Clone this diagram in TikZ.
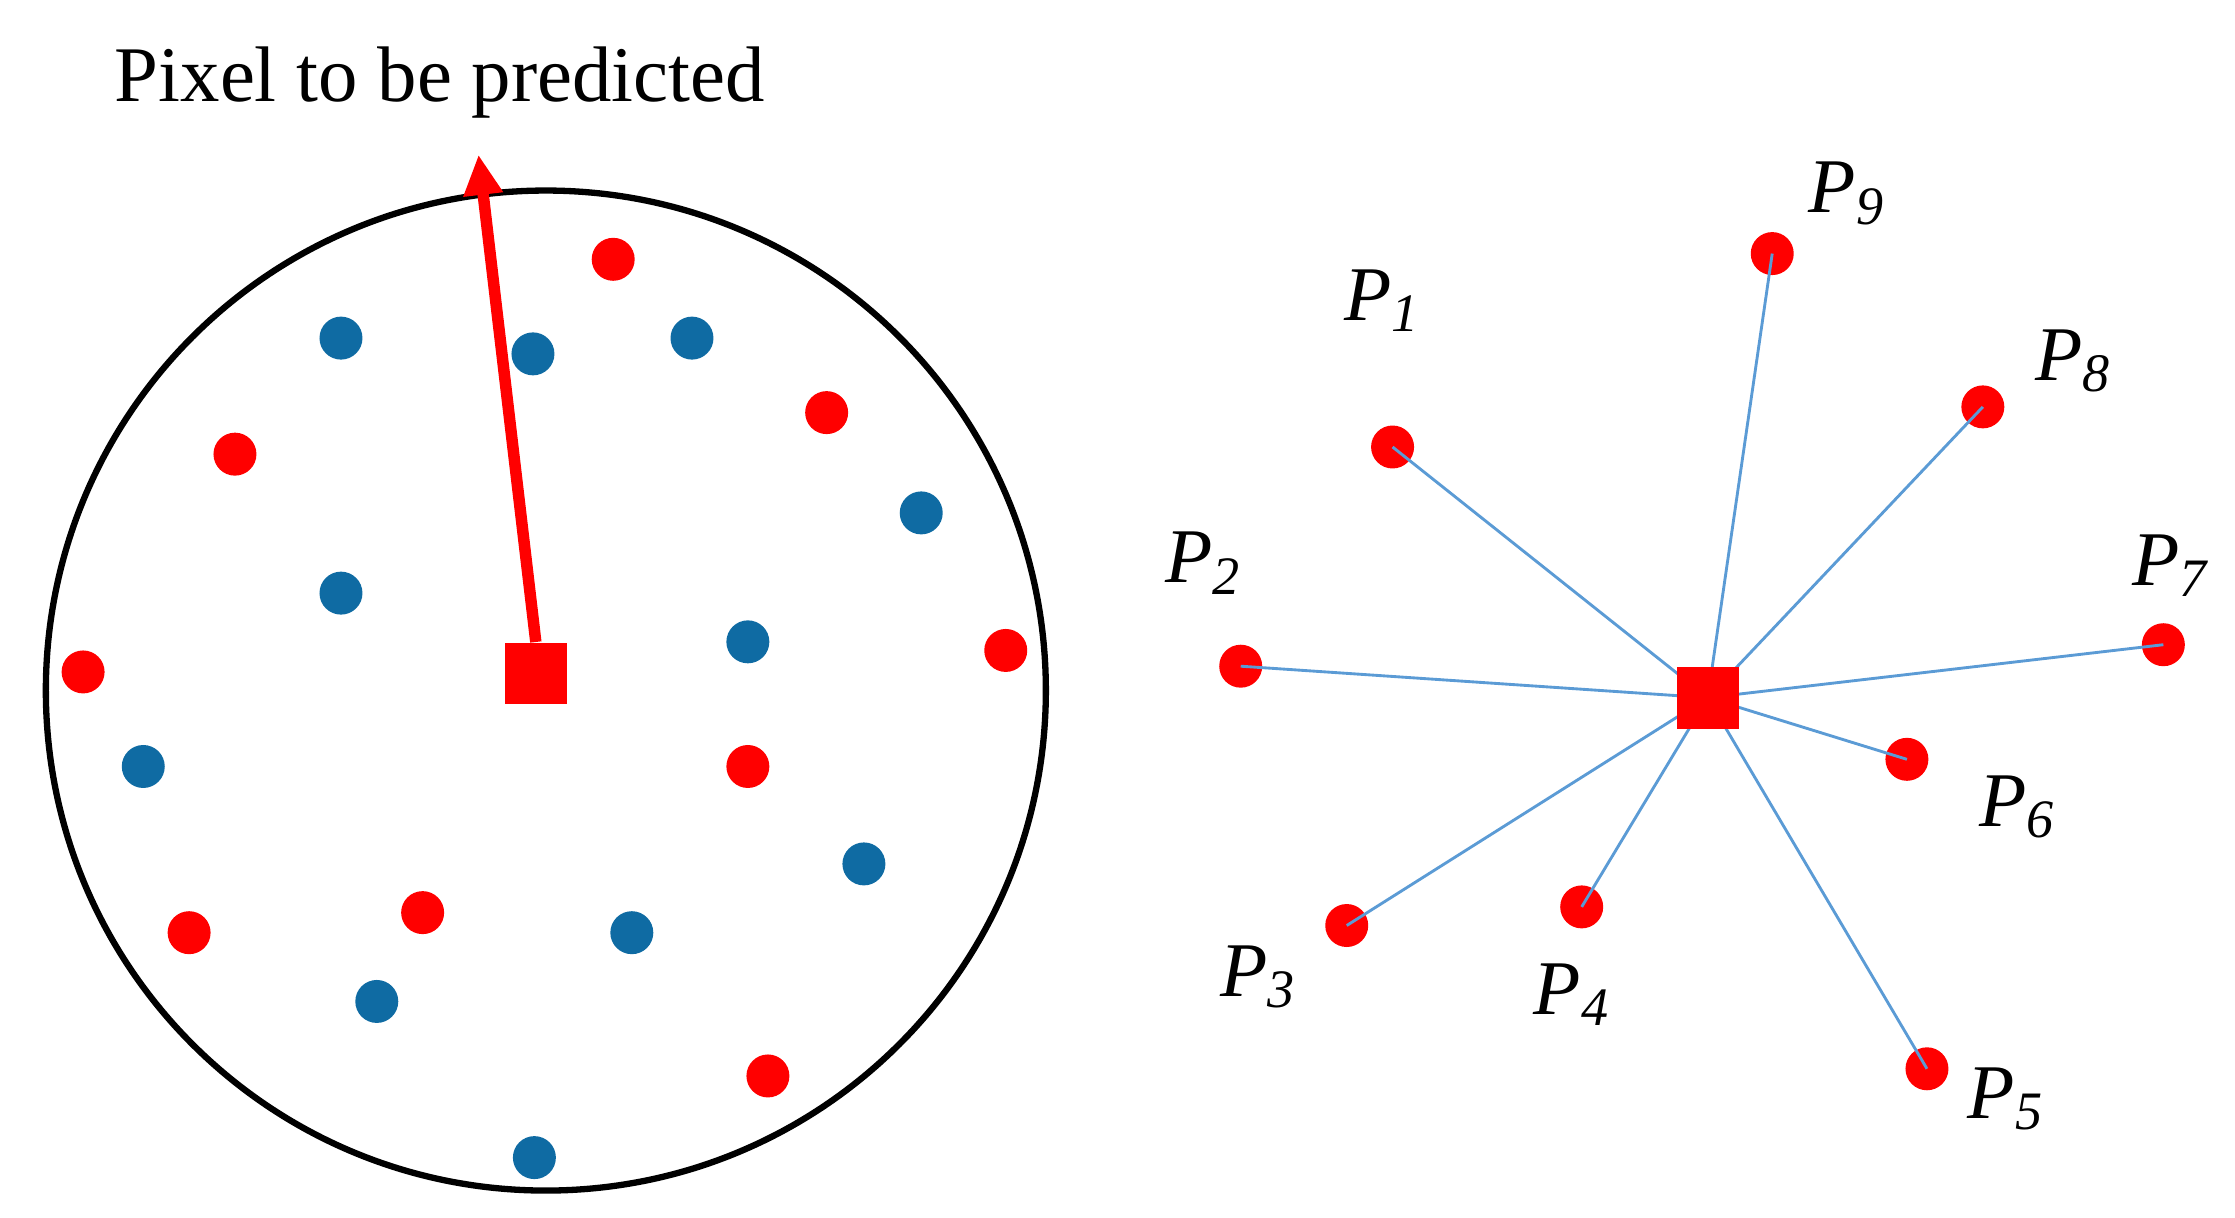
\documentclass[tikz,border=0pt]{standalone}
\usetikzlibrary{arrows.meta}
\usepackage{fontspec}
\setmainfont{Liberation Serif}
\definecolor{dred}{HTML}{FF0000}
\definecolor{dblue}{HTML}{0F6BA3}
\definecolor{lblue}{HTML}{5B9BD5}
\begin{document}
\begin{tikzpicture}[x=0.5pt,y=-0.5pt,
  rd/.style={circle,fill=dred,inner sep=0,minimum size=15pt},
  bd/.style={circle,fill=dblue,inner sep=0,minimum size=15pt},
  sq/.style={rectangle,fill=dred,inner sep=0,minimum size=21.5pt},
  lab/.style={font=\fontsize{27}{30}\selectfont\itshape},
  ln/.style={draw=lblue,line width=1pt}]
\useasboundingbox (0,0) rectangle (1560,850);
\node[circle,draw=black,line width=2.2pt,minimum size=349pt,inner sep=0] (c) at (381,482) {};
\foreach \i/\p in {1/{428,181},2/{164,317},3/{577,288},4/{58,469},5/{702,454},6/{522,535},7/{132,651},8/{295,637},9/{536,751}}
  \node[rd] (r\i) at (\p) {};
\foreach \i/\p in {1/{238,236},2/{372,247},3/{483,236},4/{643,358},5/{238,414},6/{522,448},7/{100,535},8/{603,603},9/{441,651},10/{263,699},11/{373,808}}
  \node[bd] (b\i) at (\p) {};
\node[sq] (s) at (374,470) {};
\coordinate (tip) at (334,108);
\draw[dred,line width=4pt,-{Triangle[length=14pt,width=13pt]}] (s.north) -- (tip);
\node[font=\fontsize{27.5}{30}\selectfont,anchor=base] (t) at (307,71) {Pixel to be predicted};
% right
\node[sq] (c2) at (1192,487) {};
\foreach \i/\p in {1/{972,312},2/{866,465},3/{940,646},4/{1104,633},5/{1345,746},6/{1331,530},7/{1510,450},8/{1384,284},9/{1237,177}}
  {\node[rd] (p\i) at (\p) {};
   \draw[ln] (p\i.center) -- (c2.center);}
\node[sq] at (1192,487) {};
\foreach \i/\p in {1/{965,210},2/{840,393},3/{878,682},4/{1097,694},5/{1400,767},6/{1408,563},7/{1515,395},8/{1447,252},9/{1289,135}}
  \node[lab] (l\i) at (\p) {P\textsubscript{\i}};
\end{tikzpicture}
\end{document}
